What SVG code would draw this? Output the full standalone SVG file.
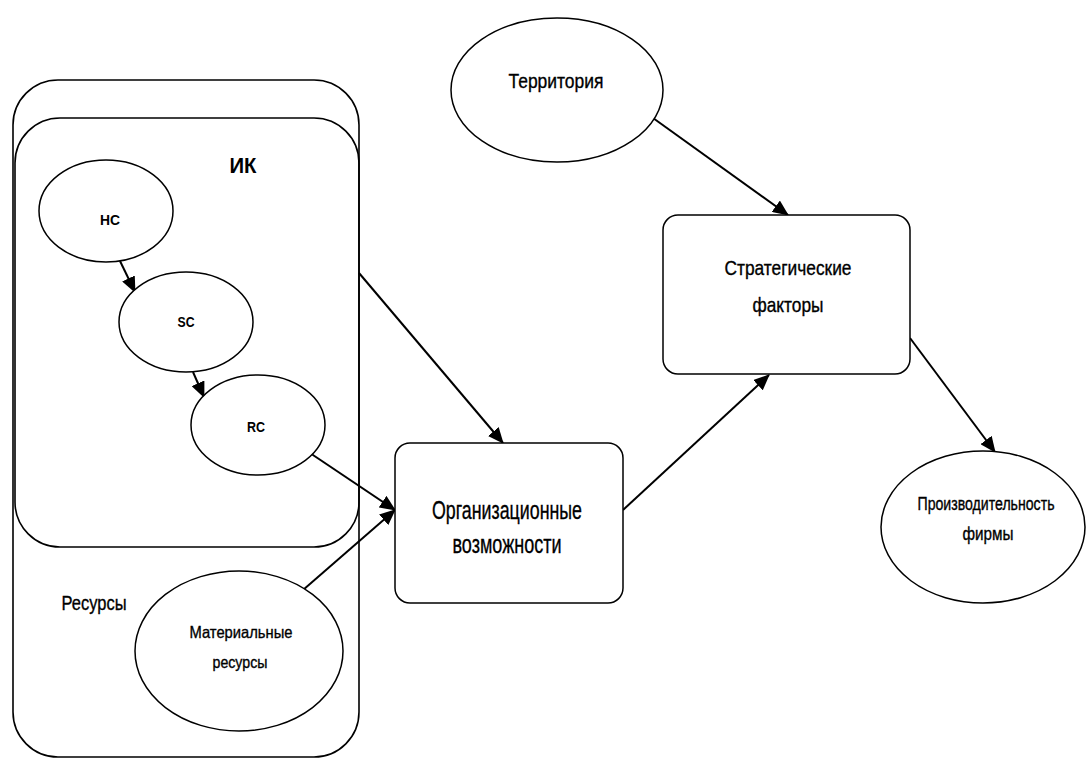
<svg xmlns="http://www.w3.org/2000/svg" width="1086" height="758" viewBox="0 0 1086 758">
<style>
  .shape { fill: #ffffff; stroke: #000000; stroke-width: 1.5; }
  .container { fill: none; stroke: #000000; stroke-width: 1.6; }
  .conn { fill: none; stroke: #000000; stroke-width: 2; marker-end: url(#arrow); }
  text { font-family: "Liberation Sans", Arial, sans-serif; fill: #000000; text-anchor: middle; stroke: #000000; stroke-width: 0.35; }
  .big { font-size: 26px; }
  .mid { font-size: 21px; }
  .perf { font-size: 18px; }
  .small { font-size: 16.5px; }
  .tiny { font-size: 15px; font-weight: bold; stroke-width: 0; }
</style>
<defs>
  <marker id="arrow" markerUnits="userSpaceOnUse" markerWidth="16" markerHeight="14" refX="15" refY="7" orient="auto">
    <path d="M0,0 L16,7 L0,14 z" fill="#000000"/>
  </marker>
</defs>
<rect width="1086" height="758" fill="#ffffff"/>

<g id="resources-container">
  <rect class="container" x="13" y="80" width="346" height="677" rx="45" ry="45"/>
  <text class="mid" x="94" y="610" textLength="65" lengthAdjust="spacingAndGlyphs">Ресурсы</text>
</g>
<g id="ik-container">
  <rect class="container" x="15" y="118" width="344" height="429" rx="45" ry="45"/>
  <text x="243" y="173" style="font-size:22px;font-weight:bold;stroke-width:0" textLength="27" lengthAdjust="spacingAndGlyphs">ИК</text>
</g>

<g id="connectors">
  <line class="conn" x1="120" y1="261" x2="135" y2="292"/>
  <line class="conn" x1="193" y1="372" x2="204" y2="397"/>
  <line class="conn" x1="310" y1="453" x2="395" y2="510"/>
  <line class="conn" x1="303" y1="590" x2="395" y2="510"/>
  <line class="conn" x1="359" y1="273" x2="503" y2="443"/>
  <line class="conn" x1="623" y1="510" x2="769" y2="375"/>
  <line class="conn" x1="653" y1="118" x2="788" y2="215"/>
  <line class="conn" x1="910" y1="338" x2="995" y2="452"/>
</g>

<g id="hc">
  <ellipse class="shape" cx="106" cy="211" rx="67" ry="51"/>
  <text class="tiny" x="110" y="225" textLength="20" lengthAdjust="spacingAndGlyphs">HC</text>
</g>
<g id="sc">
  <ellipse class="shape" cx="186" cy="322" rx="67" ry="50"/>
  <text class="tiny" x="186" y="327" textLength="17" lengthAdjust="spacingAndGlyphs">SC</text>
</g>
<g id="rc">
  <ellipse class="shape" cx="258" cy="425" rx="67" ry="50"/>
  <text class="tiny" x="256" y="432" textLength="18" lengthAdjust="spacingAndGlyphs">RC</text>
</g>
<g id="material">
  <ellipse class="shape" cx="239" cy="651" rx="104" ry="80"/>
  <text class="small" x="241" y="638" textLength="103" lengthAdjust="spacingAndGlyphs">Материальные</text>
  <text class="small" x="240" y="668" textLength="55" lengthAdjust="spacingAndGlyphs">ресурсы</text>
</g>
<g id="org">
  <rect class="shape" x="395" y="443" width="228" height="160" rx="15" ry="15"/>
  <text class="big" x="507" y="519" textLength="150" lengthAdjust="spacingAndGlyphs">Организационные</text>
  <text class="big" x="507" y="553" textLength="109" lengthAdjust="spacingAndGlyphs">возможности</text>
</g>
<g id="territory">
  <ellipse class="shape" cx="557" cy="90" rx="106" ry="72"/>
  <text class="mid" x="556" y="88" textLength="95" lengthAdjust="spacingAndGlyphs">Территория</text>
</g>
<g id="strategic">
  <rect class="shape" x="663" y="215" width="247" height="159" rx="15" ry="15"/>
  <text class="mid" x="788" y="275" textLength="127" lengthAdjust="spacingAndGlyphs">Стратегические</text>
  <text class="mid" x="788" y="312" textLength="71" lengthAdjust="spacingAndGlyphs">факторы</text>
</g>
<g id="performance">
  <ellipse class="shape" cx="983" cy="527" rx="102" ry="76"/>
  <text class="perf" x="986" y="510" textLength="137" lengthAdjust="spacingAndGlyphs">Производительность</text>
  <text class="perf" x="988" y="540" textLength="51" lengthAdjust="spacingAndGlyphs">фирмы</text>
</g>
</svg>
